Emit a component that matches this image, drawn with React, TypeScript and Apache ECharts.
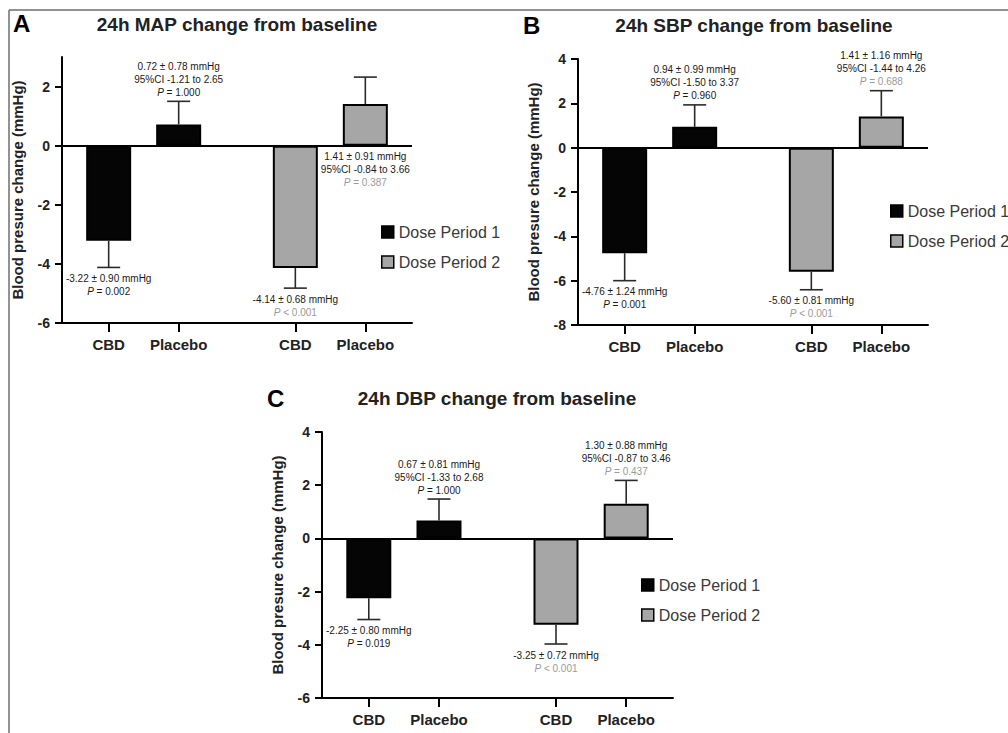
import React, { useEffect, useRef } from 'react';
import * as echarts from 'echarts';

// ---------- data ----------
const categories = ['CBD', 'Placebo', 'CBD', 'Placebo'];
const seriesNames = ['Dose Period 1', 'Dose Period 2'];
const periodOf = [0, 0, 1, 1];

// Panel A: 24h MAP
const mapMean = [-3.22, 0.72, -4.14, 1.41];
const mapSem = [0.9, 0.78, 0.68, 0.91];
const mapCI = ['', '95%CI -1.21 to 2.65', '', '95%CI -0.84 to 3.66'];
const mapP = ['= 0.002', '= 1.000', '< 0.001', '= 0.387'];
const mapTicks = [-6, -4, -2, 0, 2];

// Panel B: 24h SBP
const sbpMean = [-4.76, 0.94, -5.6, 1.41];
const sbpSem = [1.24, 0.99, 0.81, 1.16];
const sbpCI = ['', '95%CI -1.50 to 3.37', '', '95%CI -1.44 to 4.26'];
const sbpP = ['= 0.001', '= 0.960', '< 0.001', '= 0.688'];
const sbpTicks = [-8, -6, -4, -2, 0, 2, 4];

// Panel C: 24h DBP
const dbpMean = [-2.25, 0.67, -3.25, 1.3];
const dbpSem = [0.8, 0.81, 0.72, 0.88];
const dbpCI = ['', '95%CI -1.33 to 2.68', '', '95%CI -0.87 to 3.46'];
const dbpP = ['= 0.019', '= 1.000', '< 0.001', '= 0.437'];
const dbpTicks = [-6, -4, -2, 0, 2, 4];

// ---------- layout ----------
const slotPos = [2, 5, 10, 13];
const slotMax = 15;
const FONT = "'Liberation Sans', Arial, Helvetica, sans-serif";
const barColors = ['#050505', '#a6a6a6'];
const pColors = ['#1a1a1a', '#9a9a9a'];

const panels = [
  {
    letter: 'A', title: '24h MAP change from baseline',
    mean: mapMean, sem: mapSem, ci: mapCI, p: mapP, ticks: mapTicks, yMin: -6, yMax: 3,
    grid: { left: 62, top: 57, width: 350, height: 266 },
    letterPos: [13, 23], titlePos: [237, 24], legendPos: [381, 224], labelAtZero: [3],
  },
  {
    letter: 'B', title: '24h SBP change from baseline',
    mean: sbpMean, sem: sbpSem, ci: sbpCI, p: sbpP, ticks: sbpTicks, yMin: -8, yMax: 4,
    grid: { left: 578, top: 59, width: 350, height: 266 },
    letterPos: [523, 25], titlePos: [754, 25], legendPos: [890, 203], labelAtZero: [] as number[],
  },
  {
    letter: 'C', title: '24h DBP change from baseline',
    mean: dbpMean, sem: dbpSem, ci: dbpCI, p: dbpP, ticks: dbpTicks, yMin: -6, yMax: 4,
    grid: { left: 322, top: 432, width: 351, height: 266 },
    letterPos: [267, 398], titlePos: [497, 398], legendPos: [641, 577], labelAtZero: [] as number[],
  },
];

const rich = {
  n: { fontSize: 10, lineHeight: 13, fill: '#1a1a1a', fontFamily: FONT },
  pi0: { fontSize: 10, lineHeight: 13, fill: pColors[0], fontStyle: 'italic', fontFamily: FONT },
  p0: { fontSize: 10, lineHeight: 13, fill: pColors[0], fontFamily: FONT },
  pi1: { fontSize: 10, lineHeight: 13, fill: pColors[1], fontStyle: 'italic', fontFamily: FONT },
  p1: { fontSize: 10, lineHeight: 13, fill: pColors[1], fontFamily: FONT },
};

function buildOption() {
  const grid: any[] = [];
  const xAxis: any[] = [];
  const yAxis: any[] = [];
  const series: any[] = [];
  const legend: any[] = [];
  const graphic: any[] = [
    { type: 'line', shape: { x1: 9, y1: 10, x2: 1008, y2: 10 }, style: { stroke: '#6e6e6e', lineWidth: 1.5 } },
    { type: 'line', shape: { x1: 9, y1: 10, x2: 9, y2: 733 }, style: { stroke: '#6e6e6e', lineWidth: 1.5 } },
  ];

  panels.forEach((pn, k) => {
    grid.push({ ...pn.grid, containLabel: false });
    xAxis.push({
      type: 'value', gridIndex: k, min: 0, max: slotMax,
      axisLine: { onZero: false, lineStyle: { color: '#000', width: 2 } },
      axisTick: { customValues: slotPos, length: 9, lineStyle: { color: '#000', width: 2 } },
      axisLabel: {
        customValues: slotPos, margin: 14,
        formatter: (v: number) => categories[slotPos.indexOf(v)] ?? '',
        fontSize: 15, fontWeight: 'bold', color: '#222', fontFamily: FONT,
      },
      splitLine: { show: false },
    });
    yAxis.push({
      type: 'value', gridIndex: k, min: pn.yMin, max: pn.yMax,
      name: 'Blood presure change (mmHg)', nameLocation: 'middle', nameGap: 37, nameRotate: 90,
      nameTextStyle: { fontSize: 15, fontWeight: 'bold', color: '#222', fontFamily: FONT },
      axisLine: { show: true, onZero: false, lineStyle: { color: '#000', width: 2 } },
      axisTick: { show: true, customValues: pn.ticks, length: 7, lineStyle: { color: '#000', width: 2 } },
      axisLabel: { customValues: pn.ticks, margin: 12, fontSize: 14, fontWeight: 'bold', color: '#222', fontFamily: FONT },
      splitLine: { show: false },
    });

    [0, 1].forEach((per) => {
      const data = pn.mean
        .map((m, i) => (periodOf[i] === per ? [slotPos[i], m] : null))
        .filter((d) => d !== null);
      series.push({
        type: 'bar', name: seriesNames[per], xAxisIndex: k, yAxisIndex: k,
        barWidth: 45, barGap: '-100%', z: 2,
        itemStyle: { color: barColors[per], borderColor: '#000', borderWidth: 2 },
        data,
      });
    });

    const errData = pn.mean.map((m, i) => [slotPos[i], m, pn.sem[i]]);
    series.push({
      type: 'custom', xAxisIndex: k, yAxisIndex: k, z: 5, silent: true,
      data: errData,
      renderItem: (params: any, api: any) => {
        const i = params.dataIndex;
        const x = api.value(0);
        const m = api.value(1);
        const e = api.value(2);
        const up = m >= 0;
        const endV = up ? m + e : m - e;
        const base = api.coord([x, m]);
        const end = api.coord([x, endV]);
        const stroke = { stroke: '#2a2a2a', lineWidth: 1.6 };
        const per = periodOf[i];
        const lines = [`{n|${m.toFixed(2)} ± ${e.toFixed(2)} mmHg}`];
        if (pn.ci[i]) lines.push(`{n|${pn.ci[i]}}`);
        lines.push(`{pi${per}|P}{p${per}| ${pn.p[i]}}`);
        let ty: number;
        let va: string;
        if (pn.labelAtZero.includes(i)) {
          ty = api.coord([x, 0])[1] + 4.5;
          va = 'top';
        } else if (up) {
          ty = end[1] - 2.5;
          va = 'bottom';
        } else {
          ty = end[1] + 4.5;
          va = 'top';
        }
        return {
          type: 'group',
          children: [
            { type: 'line', shape: { x1: base[0], y1: base[1], x2: end[0], y2: end[1] }, style: stroke },
            { type: 'line', shape: { x1: end[0] - 11.5, y1: end[1], x2: end[0] + 11.5, y2: end[1] }, style: stroke },
            {
              type: 'text', x: end[0], y: ty,
              style: { text: lines.join('\n'), align: 'center', verticalAlign: va, rich, fontSize: 10, lineHeight: 13, fontFamily: FONT, fill: '#1a1a1a' },
            },
          ],
        };
      },
      markLine: {
        silent: true, symbol: 'none', label: { show: false },
        lineStyle: { color: '#000', width: 2, type: 'solid' },
        data: [{ yAxis: 0 }],
      },
    });

    legend.push({
      data: seriesNames, left: pn.legendPos[0], top: pn.legendPos[1], orient: 'vertical',
      padding: 0, itemWidth: 12, itemHeight: 12, itemGap: 14, icon: 'rect', selectedMode: false,
      itemStyle: { borderWidth: 1.5 },
      textStyle: { fontSize: 16, color: '#3a3a3a', fontFamily: FONT },
    });

    graphic.push({
      type: 'text', x: pn.letterPos[0], y: pn.letterPos[1],
      style: { text: pn.letter, fontSize: 24, fontWeight: 'bold', fill: '#000', fontFamily: FONT, align: 'left', verticalAlign: 'middle' },
    });
    graphic.push({
      type: 'text', x: pn.titlePos[0], y: pn.titlePos[1],
      style: { text: pn.title, fontSize: 19, fontWeight: 'bold', fill: '#222', fontFamily: FONT, align: 'center', verticalAlign: 'middle' },
    });
  });

  return { animation: false, backgroundColor: '#fff', grid, xAxis, yAxis, series, legend, graphic };
}

export default function App() {
  const ref = useRef<HTMLDivElement>(null);
  useEffect(() => {
    if (!ref.current) return;
    const chart = echarts.init(ref.current, undefined, { renderer: 'svg' });
    chart.setOption(buildOption() as any);
    return () => chart.dispose();
  }, []);
  return (
    <div
      ref={ref}
      style={{ position: 'fixed', left: 0, top: 0, width: 1008, height: 733, background: '#fff' }}
    />
  );
}
